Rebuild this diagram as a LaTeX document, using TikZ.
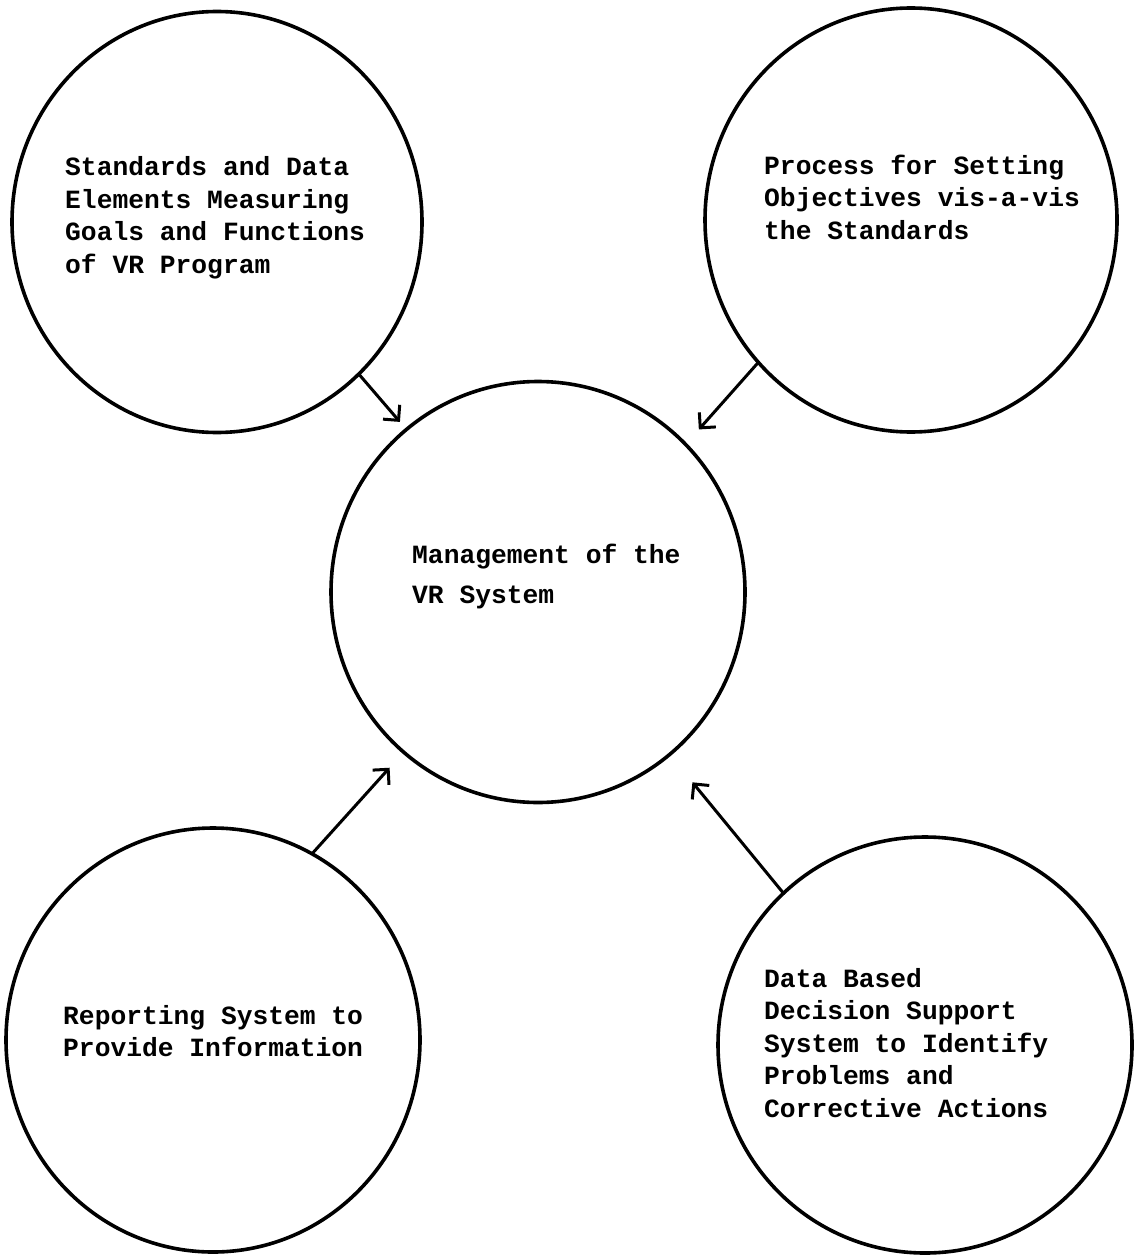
\documentclass[tikz,border=0pt]{standalone}
\usepackage{fontspec}
\setmonofont{Liberation Mono}
\usetikzlibrary{shapes.geometric,arrows.meta}
\begin{document}
\begin{tikzpicture}[x=1pt,y=-1pt,
  bubble/.style={ellipse,draw=black,line width=3.6pt,inner sep=0pt,outer sep=0pt},
  txt/.style={anchor=west,align=left,inner sep=0pt,font=\ttfamily\bfseries\fontsize{26.3pt}{32.5pt}\selectfont},
  link/.style={line width=3pt,line cap=round,-{Straight Barb[length=11pt,width=22pt,line width=3pt]}}
]
\useasboundingbox (0,0) rectangle (1136,1257);
\fill[white] (0,0) rectangle (1136,1257);

% circles
\node[bubble,minimum width=410pt,minimum height=421pt] (tl) at (217,222) {};
\node[bubble,minimum width=412pt,minimum height=424pt] (tr) at (911,220) {};
\node[bubble,minimum width=414pt,minimum height=421pt] (c)  at (538,592) {};
\node[bubble,minimum width=414pt,minimum height=424pt] (bl) at (213,1040) {};
\node[bubble,minimum width=414pt,minimum height=416pt] (br) at (925,1045) {};

% texts
\node[txt] (ttl) at (65,218) {Standards and Data\\Elements Measuring\\Goals and Functions\\of VR Program};
\node[txt] (ttr) at (764,197) {Process for Setting\\Objectives vis-a-vis\\the Standards};
\node[txt,font=\ttfamily\bfseries\fontsize{26.3pt}{40pt}\selectfont] (tc) at (412,577) {Management of the\\VR System};
\node[txt] (tbl) at (63,1031) {Reporting System to\\Provide Information};
\node[txt] (tbr) at (764,1043) {Data Based\\Decision Support\\System to Identify\\Problems and\\Corrective Actions};

% connectors
\draw[link,shorten >=10pt] (tl.313) -- (c.129);
\draw[link,shorten >=20pt] (tr.223.5) -- (c.45);
\draw[link,shorten >=21pt] (bl.62) -- (c.230);
\draw[link,shorten >=36pt] (br.133) -- (c.309);
\end{tikzpicture}
\end{document}
